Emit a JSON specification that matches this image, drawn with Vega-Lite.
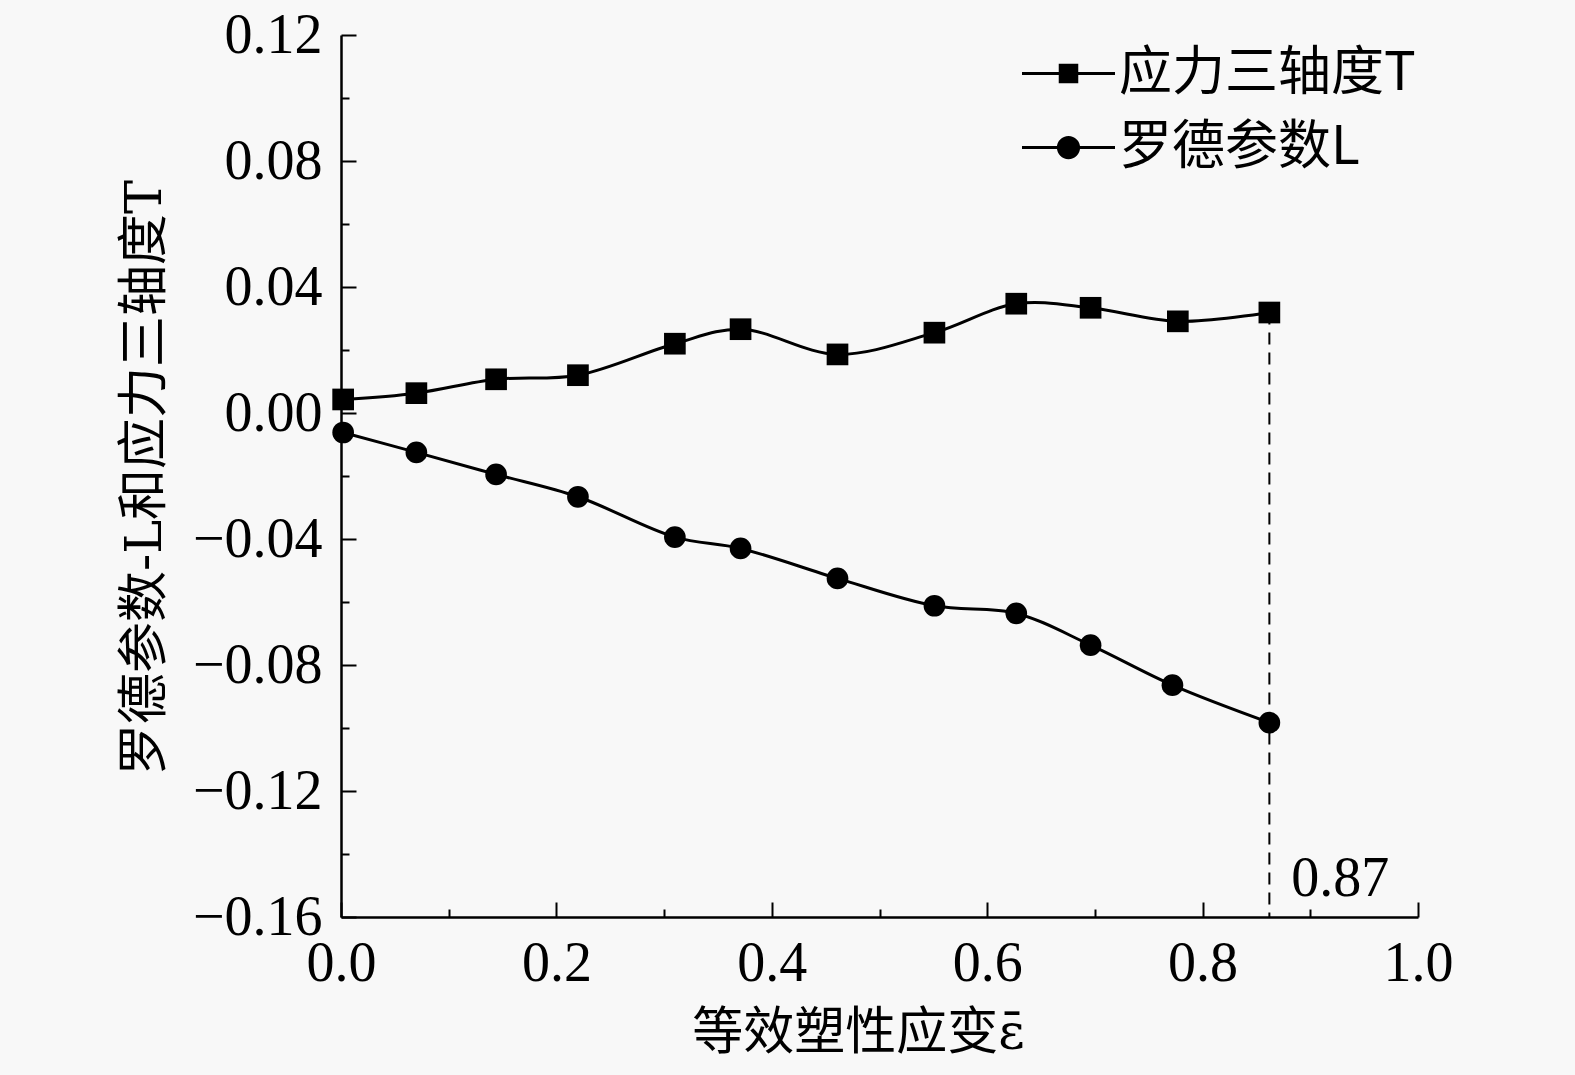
{
  "$schema": "https://vega.github.io/schema/vega-lite/v6.json",
  "width": 1077,
  "height": 882,
  "autosize": {"type": "none"},
  "padding": {"left": 341, "top": 35, "right": 157, "bottom": 158},
  "background": "#f8f8f8",
  "config": {
    "view": {"stroke": null},
    "axis": {
      "grid": false,
      "domainColor": "black",
      "domainWidth": 2.5,
      "tickColor": "black",
      "tickWidth": 2,
      "labelColor": "black",
      "labelFont": "Liberation Serif",
      "labelFontSize": 56,
      "titleColor": "black",
      "titleFont": "DejaVu Serif, Noto Sans CJK SC",
      "titleFontSize": 51,
      "titleFontWeight": "normal"
    }
  },
  "datasets": {
    "curves": [
      {"series": "应力三轴度T", "x": 0.002, "y": 0.0043},
      {"series": "应力三轴度T", "x": 0.070, "y": 0.0063},
      {"series": "应力三轴度T", "x": 0.144, "y": 0.0107},
      {"series": "应力三轴度T", "x": 0.220, "y": 0.0120},
      {"series": "应力三轴度T", "x": 0.310, "y": 0.0220},
      {"series": "应力三轴度T", "x": 0.371, "y": 0.0266},
      {"series": "应力三轴度T", "x": 0.461, "y": 0.0186},
      {"series": "应力三轴度T", "x": 0.551, "y": 0.0255},
      {"series": "应力三轴度T", "x": 0.627, "y": 0.0347},
      {"series": "应力三轴度T", "x": 0.696, "y": 0.0334},
      {"series": "应力三轴度T", "x": 0.777, "y": 0.0291},
      {"series": "应力三轴度T", "x": 0.862, "y": 0.0319},
      {"series": "罗德参数L", "x": 0.002, "y": -0.0062},
      {"series": "罗德参数L", "x": 0.070, "y": -0.0125},
      {"series": "罗德参数L", "x": 0.144, "y": -0.0195},
      {"series": "罗德参数L", "x": 0.220, "y": -0.0266},
      {"series": "罗德参数L", "x": 0.310, "y": -0.0394},
      {"series": "罗德参数L", "x": 0.371, "y": -0.0430},
      {"series": "罗德参数L", "x": 0.461, "y": -0.0525},
      {"series": "罗德参数L", "x": 0.551, "y": -0.0612},
      {"series": "罗德参数L", "x": 0.627, "y": -0.0636},
      {"series": "罗德参数L", "x": 0.696, "y": -0.0737},
      {"series": "罗德参数L", "x": 0.772, "y": -0.0864},
      {"series": "罗德参数L", "x": 0.862, "y": -0.0983}
    ],
    "marker": [{"x": 0.862, "y": 0.0319, "y2": -0.16, "label": "0.87", "ly": -0.148}]
  },
  "resolve": {"scale": {"shape": "independent"}},
  "layer": [
    {
      "data": {"name": "curves"},
      "mark": {"type": "line", "interpolate": "catmull-rom", "color": "black", "strokeWidth": 3},
      "encoding": {
        "x": {
          "field": "x", "type": "quantitative",
          "scale": {"domain": [0, 1], "nice": false},
          "axis": {
            "values": [0, 0.1, 0.2, 0.3, 0.4, 0.5, 0.6, 0.7, 0.8, 0.9, 1.0],
            "labelExpr": "round(datum.value*10)%2==0 ? format(datum.value,'.1f') : ''",
            "tickSize": {"condition": {"test": "round(datum.value*10)%2==0", "value": -15}, "value": -8},
            "labelPadding": 34,
            "labelFlush": false,
            "labelOverlap": false,
            "title": "等效塑性应变ε̄",
            "titleX": 517,
            "titleY": 116,
            "titleAnchor": "middle",
            "titleBaseline": "middle"
          }
        },
        "y": {
          "field": "y", "type": "quantitative",
          "scale": {"domain": [-0.16, 0.12], "nice": false, "zero": false},
          "axis": {
            "values": [-0.16, -0.14, -0.12, -0.1, -0.08, -0.06, -0.04, -0.02, 0, 0.02, 0.04, 0.06, 0.08, 0.1, 0.12],
            "labelExpr": "abs(round(datum.value*100))%4==0 ? format(datum.value,'.2f') : ''",
            "tickSize": {"condition": {"test": "abs(round(datum.value*100))%4==0", "value": -15}, "value": -8},
            "labelPadding": 34,
            "labelFlush": false,
            "labelOverlap": false,
            "title": "罗德参数-L和应力三轴度T",
            "titleX": -196,
            "titleY": 442,
            "titleAnchor": "middle",
            "titleAlign": "center",
            "titleBaseline": "middle"
          }
        },
        "detail": {"field": "series"}
      }
    },
    {
      "data": {"name": "marker"},
      "mark": {"type": "rule", "color": "black", "strokeWidth": 2, "strokeDash": [12, 8]},
      "encoding": {
        "x": {"field": "x", "type": "quantitative"},
        "y": {"field": "y", "type": "quantitative"},
        "y2": {"field": "y2"}
      }
    },
    {
      "data": {"name": "curves"},
      "mark": {"type": "point", "filled": true, "color": "black", "opacity": 1, "size": 470},
      "encoding": {
        "x": {"field": "x", "type": "quantitative"},
        "y": {"field": "y", "type": "quantitative"},
        "shape": {
          "field": "series", "type": "nominal",
          "scale": {"domain": ["应力三轴度T", "罗德参数L"], "range": ["square", "circle"]},
          "legend": null
        }
      }
    },
    {
      "data": {"name": "curves"},
      "mark": {"type": "point", "filled": true, "color": "black", "opacity": 0, "size": 1},
      "encoding": {
        "x": {"field": "x", "type": "quantitative"},
        "y": {"field": "y", "type": "quantitative"},
        "shape": {
          "field": "series", "type": "nominal",
          "scale": {
            "domain": ["应力三轴度T", "罗德参数L"],
            "range": [
              "M-1,-0.03H-0.2V0.03H-1Z M0.2,-0.03H1V0.03H0.2Z M-0.21,-0.21H0.21V0.21H-0.21Z",
              "M-1,-0.03H-0.24V0.03H-1Z M0.24,-0.03H1V0.03H0.24Z M0.25,0A0.25,0.25 0 1,1 -0.25,0A0.25,0.25 0 1,1 0.25,0Z"
            ]
          },
          "legend": {
            "orient": "none",
            "legendX": 681,
            "legendY": -8,
            "title": null,
            "labelFont": "Noto Sans CJK SC",
            "labelFontSize": 53,
            "labelColor": "black",
            "labelLimit": 0,
            "labelOffset": 4,
            "symbolSize": 8649,
            "symbolFillColor": "black",
            "symbolStrokeWidth": 0,
            "symbolOpacity": 1,
            "rowPadding": -31
          }
        }
      }
    },
    {
      "data": {"name": "marker"},
      "mark": {"type": "text", "align": "left", "baseline": "middle", "dx": 22, "font": "Liberation Serif", "fontSize": 56, "color": "black"},
      "encoding": {
        "x": {"field": "x", "type": "quantitative"},
        "y": {"field": "ly", "type": "quantitative"},
        "text": {"field": "label"}
      }
    }
  ]
}
